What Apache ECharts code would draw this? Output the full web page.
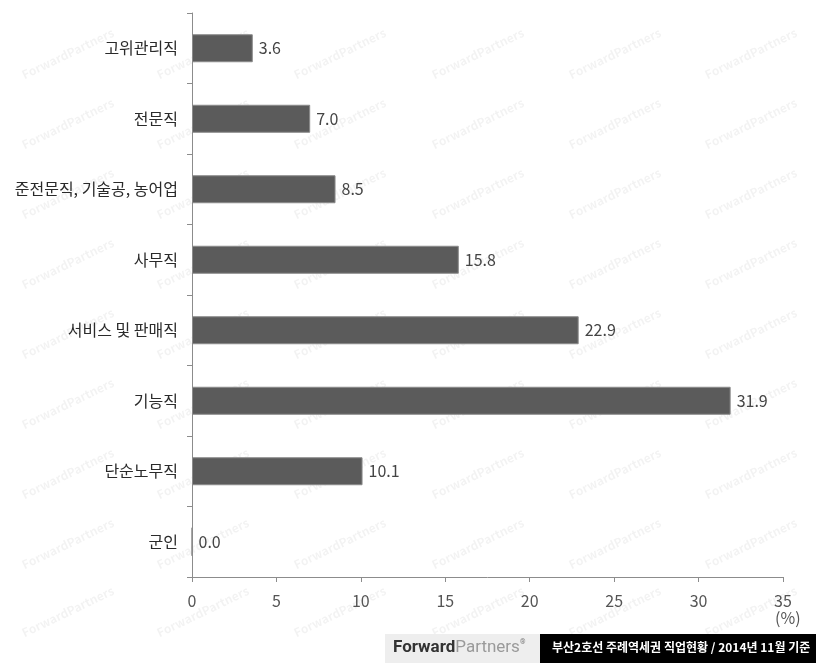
<!DOCTYPE html>
<html><head><meta charset="utf-8">
<script src="https://cdn.jsdelivr.net/npm/echarts@6/dist/echarts.min.js"></script>
<style>html,body{margin:0;padding:0;background:#fff}#c{width:816px;height:663px}</style>
</head><body><div id="c"></div>
<script>
const categories = ['고위관리직','전문직','준전문직, 기술공, 농어업','사무직','서비스 및 판매직','기능직','단순노무직','군인'];
const values = [3.6, 7.0, 8.5, 15.8, 22.9, 31.9, 10.1, 0.0];
const xTicks = [0, 5, 10, 15, 20, 25, 30, 35];
const footerText = '부산2호선 주례역세권 직업현황 / 2014년 11월 기준';

const font = '"Noto Sans CJK KR", "Noto Sans", sans-serif';
const chart = echarts.init(document.getElementById('c'), null, {renderer:'canvas'});

const wm = [];
const wmX = [20, 155, 292, 430, 567, 703];
const wmY = [70, 140, 210, 280, 350, 420, 490, 560, 628];
wmY.forEach((y, r) => wmX.forEach(x => {
  wm.push({type:'text', x: x, y: y, rotation: Math.PI/7, z: -1,
    style:{text:'ForwardPartners', font:'bold 12px ' + font, fill:'rgba(0,0,0,0.05)'}});
}));

chart.setOption({
  animation:false,
  grid:{left:192, right:33, top:13, bottom:86, containLabel:false},
  xAxis:{type:'value', min:xTicks[0], max:xTicks[xTicks.length-1], interval:5,
    axisLine:{show:true, lineStyle:{color:'#8c8c8c'}},
    axisTick:{show:true, length:5, lineStyle:{color:'#8c8c8c'}},
    splitLine:{show:false},
    axisLabel:{color:'#555', fontSize:16, fontFamily:font, margin:16}},
  yAxis:{type:'category', data:categories, inverse:true,
    axisLine:{show:true, lineStyle:{color:'#8c8c8c'}},
    axisTick:{show:true, length:5, lineStyle:{color:'#8c8c8c'}},
    axisLabel:{color:'#2a2a2a', fontSize:16, fontFamily:font, margin:14}},
  series:[{type:'bar', data:values, barWidth:28,
    itemStyle:{color:'#5b5b5b', borderColor:'#8a8a8a', borderWidth:1},
    label:{show:true, position:'right', distance:6, color:'#444', fontSize:16, fontFamily:font,
      formatter:p => p.value.toFixed(1)}}],
  graphic: wm.concat([
    {type:'text', x:775, y:610, style:{text:'(%)', font:'16px ' + font, fill:'#555'}},
    {type:'rect', shape:{x:385, y:634, width:155, height:29}, style:{fill:'#eeeeee'}},
    {type:'text', x:393, y:639, style:{rich:{a:{font:'bold 17px Roboto, sans-serif', fill:'#333'}, b:{font:'17px Roboto, sans-serif', fill:'#9a9a9a'}, c:{font:'7px Roboto, sans-serif', fill:'#777', verticalAlign:'top'}}, text:'{a|Forward}{b|Partners}{c|®}'}},
    {type:'rect', shape:{x:540, y:634, width:276, height:29}, style:{fill:'#000'}},
    {type:'text', x:552, y:641, style:{text:footerText, font:'bold 12px ' + font, fill:'#fff'}}
  ])
});
</script></body></html>
